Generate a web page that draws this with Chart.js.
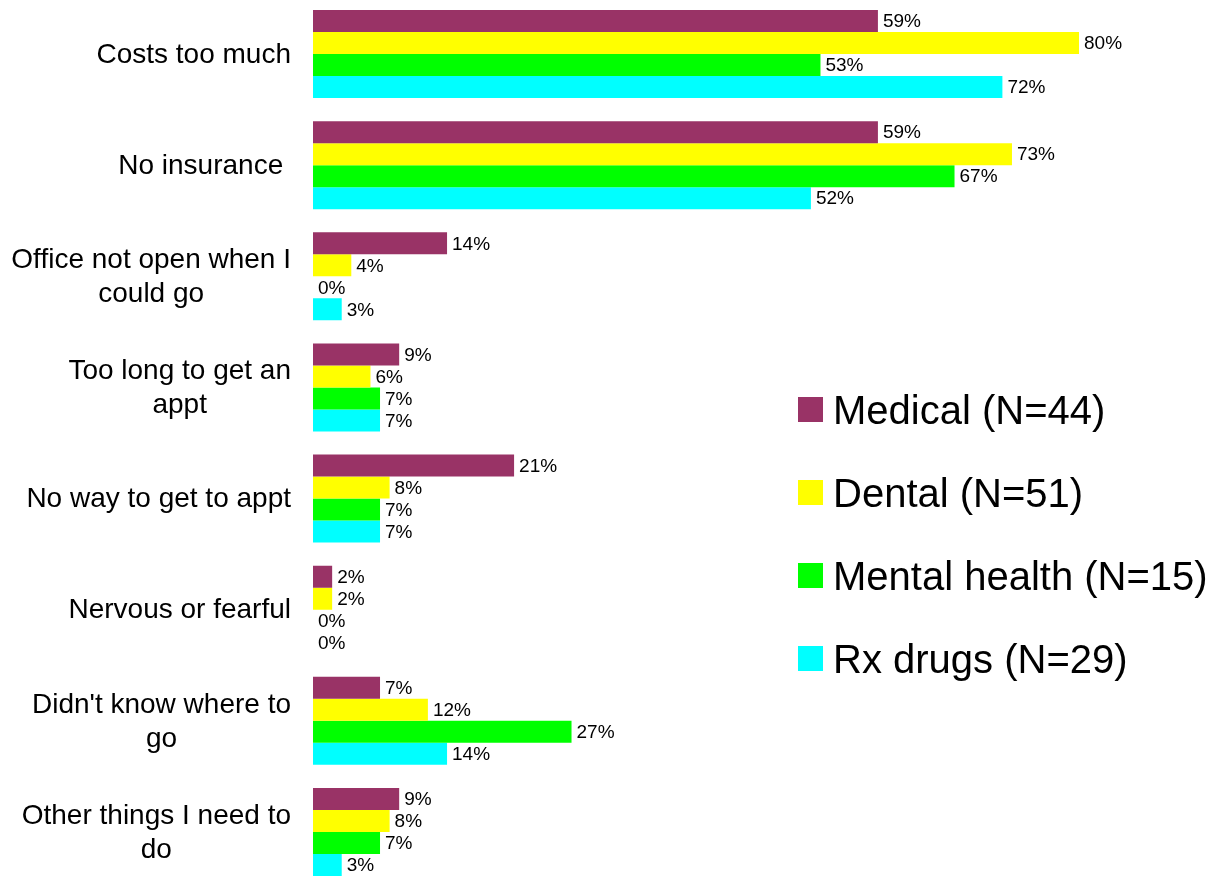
<!DOCTYPE html>
<html>
<head>
<meta charset="utf-8">
<script src="https://cdn.jsdelivr.net/npm/chart.js@4"></script>
<style>
  html, body { margin: 0; padding: 0; background: #fff; overflow: hidden; }
  body { width: 1223px; height: 877px; position: relative; font-family: "Liberation Sans", Arial, sans-serif; }
  #wrap { position: absolute; left: 0; top: -2px; width: 1223px; height: 890px; }
  #legend { position: absolute; left: 798px; top: 368px; }
  .item { display: flex; align-items: center; height: 83px; }
  .item .sw { width: 25px; height: 25px; margin-right: 10px; flex: none; }
  .item span { font-size: 40px; color: #000; line-height: 40px; white-space: nowrap; }
</style>
</head>
<body>
<div id="wrap"><canvas id="chart"></canvas></div>
<div id="legend"></div>
<script>
// ===== Data =====
const categories = [
  ["Costs too much"],
  ["No insurance "],
  ["Office not open when I", "could go"],
  ["Too long to get an", "appt"],
  ["No way to get to appt"],
  ["Nervous or fearful"],
  ["Didn't know where to", "go"],
  ["Other things I need to", "do"]
];

const seriesNames = ["Medical (N=44)", "Dental (N=51)", "Mental health (N=15)", "Rx drugs (N=29)"];
const seriesColors = ["#993366", "#ffff00", "#00ff00", "#00ffff"];

const medical = [59, 59, 14, 9, 21, 2, 7, 9];
const dental  = [80, 73, 4, 6, 8, 2, 12, 8];
const mental  = [53, 67, 0, 7, 7, 0, 27, 7];
const rx      = [72, 52, 3, 7, 7, 0, 14, 3];

const seriesValues = [medical, dental, mental, rx];

// ===== Labels plugin: percent at bar ends + category names =====
const barText = {
  id: "barText",
  afterDatasetsDraw(chart) {
    const ctx = chart.ctx;
    ctx.save();
    ctx.fillStyle = "#000";
    ctx.textBaseline = "middle";
    ctx.textAlign = "left";
    ctx.font = '19px "Liberation Sans", Arial, sans-serif';
    chart.data.datasets.forEach((ds, di) => {
      chart.getDatasetMeta(di).data.forEach((bar, i) => {
        ctx.fillText(ds.data[i] + "%", bar.x + 5, bar.y + 1);
      });
    });

    // category names, each block right-aligned, lines centred in block
    ctx.font = '28px "Liberation Sans", Arial, sans-serif';
    ctx.textAlign = "center";
    const right = chart.chartArea.left - 22;
    const lh = 34;
    chart.data.labels.forEach((lines, i) => {
      const y = chart.scales.y.getPixelForValue(i);
      const w = Math.max(...lines.map(l => ctx.measureText(l).width));
      const cx = right - w / 2;
      const top = y - (lines.length - 1) * lh / 2;
      lines.forEach((l, k) => ctx.fillText(l, cx, top + k * lh + 1));
    });
    ctx.restore();
  }
};

// ===== Chart =====
new Chart(document.getElementById("chart").getContext("2d"), {
  type: "bar",
  data: {
    labels: categories,
    datasets: seriesValues.map((vals, i) => ({
      label: seriesNames[i],
      data: vals,
      backgroundColor: seriesColors[i],
      borderWidth: 0,
      categoryPercentage: 0.793,
      barPercentage: 1.0
    }))
  },
  options: {
    indexAxis: "y",
    responsive: true,
    maintainAspectRatio: false,
    animation: false,
    layout: { padding: { left: 313, right: 144, top: 0.5, bottom: 0.5 } },
    scales: {
      x: { display: false, min: 0, max: 80 },
      y: { display: false }
    },
    plugins: {
      legend: { display: false },
      tooltip: { enabled: false }
    }
  },
  plugins: [barText]
});

// ===== Legend =====
const legend = document.getElementById("legend");
seriesNames.forEach((name, i) => {
  const row = document.createElement("div");
  row.className = "item";
  row.innerHTML = '<div class="sw" style="background:' + seriesColors[i] + '"></div><span>' + name + '</span>';
  legend.appendChild(row);
});
</script>
</body>
</html>
